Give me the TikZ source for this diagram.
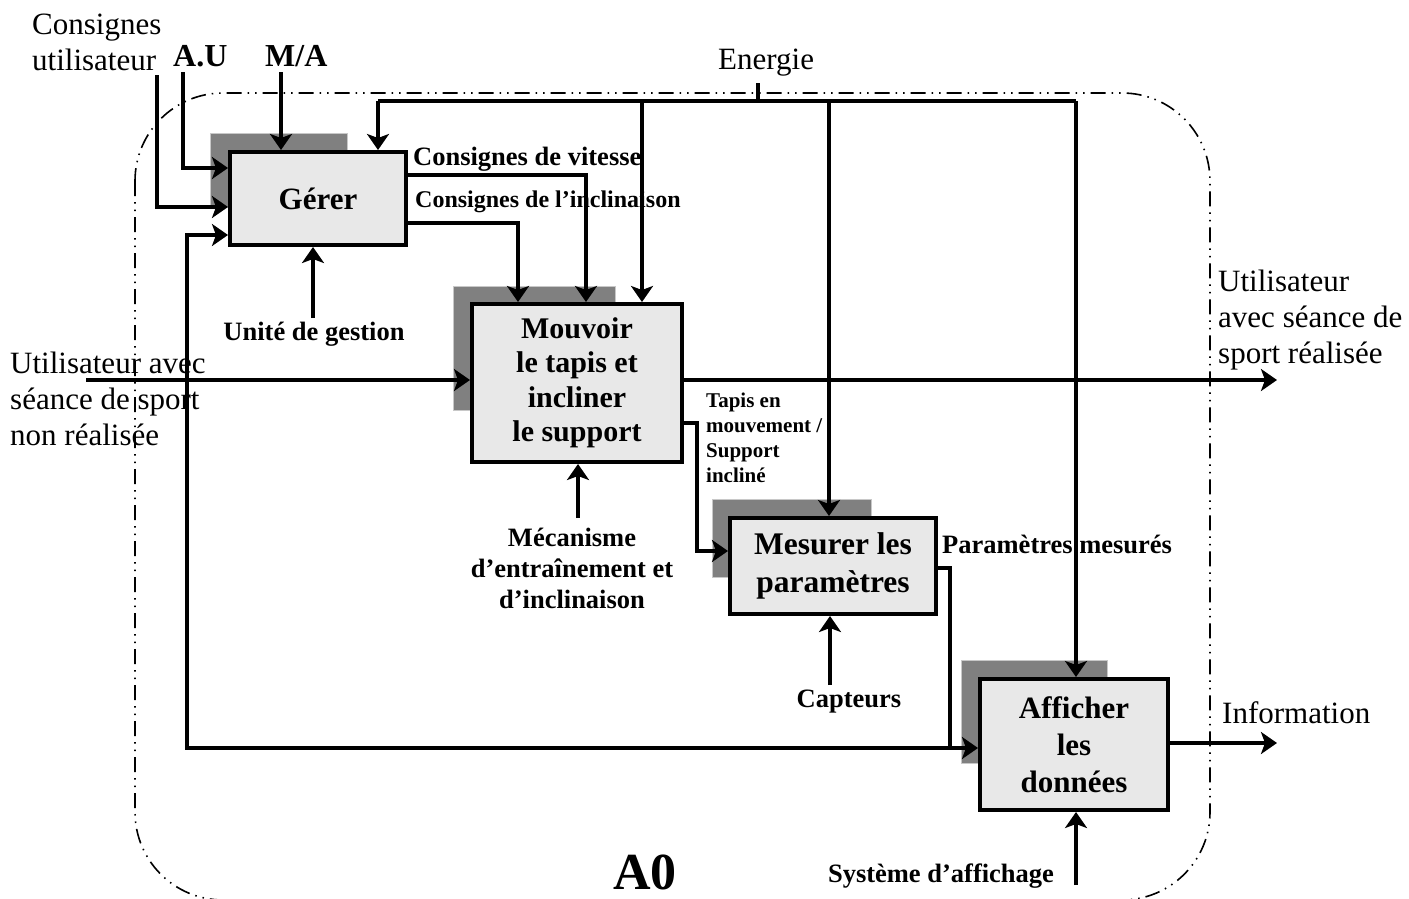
\documentclass[tikz,border=0pt]{standalone}
\usepackage{fontspec}
\setmainfont{Liberation Serif}
\usetikzlibrary{arrows.meta}
\definecolor{boxgray}{HTML}{E8E8E8}
\definecolor{shadegray}{HTML}{808080}
\definecolor{shadeedge}{HTML}{C8C8C8}
\begin{document}
\begin{tikzpicture}[x=1pt,y=-1pt,
  wire/.style={line width=3.4pt},
  arr/.style={wire,-{Stealth[length=16pt,width=22pt,inset=4pt]}},
  fn/.style={draw,line width=4pt,fill=boxgray,inner sep=0pt,align=center,
    font=\bfseries\fontsize{31}{37}\selectfont},
  shade/.style={fill=shadegray,draw=shadeedge,line width=1pt},
  plain/.style={inner sep=0pt,font=\fontsize{31}{36}\selectfont},
  tag/.style={inner sep=0pt,font=\bfseries\fontsize{26.5}{31}\selectfont},
  frame/.style={line width=1.6pt,rounded corners=88pt,
    dash pattern=on 15pt off 6pt on 1.5pt off 6pt on 1.5pt off 6pt}]
\useasboundingbox (0,0) rectangle (1409,898);

% boundary of the A0 diagram
\draw[frame] (135,93) rectangle (1210,900);

% drop shadows behind the activity boxes
\filldraw[shade] (210,133) rectangle (347,207);
\filldraw[shade] (453,286) rectangle (615,410);
\filldraw[shade] (712,499) rectangle (871,577);
\filldraw[shade] (961,660) rectangle (1107,763);

% activity boxes
\node[fn,minimum width=176pt,minimum height=93pt] (gerer) at (318,198.5) {Gérer};
\node[fn,minimum width=210pt,minimum height=158pt,
  font=\bfseries\fontsize{30}{34.5}\selectfont] (mouvoir) at (577,383)
  {Mouvoir\\le tapis et\\incliner\\le support};
\node[fn,minimum width=206pt,minimum height=96pt,
  font=\bfseries\fontsize{31.5}{38}\selectfont] (mesurer) at (833,566) {Mesurer les\\paramètres};
\node[fn,minimum width=188pt,minimum height=131pt] (afficher) at (1074,744.5)
  {Afficher\\les\\données};

% free ends and bends of the connectors
\coordinate (cuTop) at (157,75);
\coordinate (auTop) at (183,72);
\coordinate (maTop) at (281,72);
\coordinate (enTick) at (758,83);
\coordinate (enL) at (378,101);
\coordinate (enM) at (642,101);
\coordinate (enS) at (829,101);
\coordinate (enR) at (1076,101);
\coordinate (inStart) at (86,380);
\coordinate (outEnd) at (1277,380);
\coordinate (ugBot) at (313,318);
\coordinate (mcBot) at (578,518);
\coordinate (caBot) at (830,685);
\coordinate (saBot) at (1076,885);
\coordinate (infoEnd) at (1277,743);
\coordinate (tapisBend) at (697,551);
\coordinate (pmBend) at (950,748);
\coordinate (fbCorner) at (187,748);
\coordinate (fbTop) at (187,235);

% controls of Gérer
\draw[arr] (cuTop) |- ([yshift=-8.5pt]gerer.west);
\draw[arr] (auTop) |- ([yshift=30.5pt]gerer.west);
\draw[arr] (maTop) -- (maTop |- gerer.north);

% energy bus
\draw[wire] (enTick) -- (enTick |- enL);
\draw[wire] (enL) -- (enR);
\draw[arr] (enL) -- (enL |- gerer.north);
\draw[arr] (enM) -- (enM |- mouvoir.north);
\draw[arr] (enS) -- (enS |- mesurer.north);
\draw[arr] (enR) -- (enR |- afficher.north);

% set points from Gérer to Mouvoir
\draw[arr] ([yshift=23.5pt]gerer.east) -| ([xshift=9pt]mouvoir.north);
\draw[arr] ([yshift=-24.5pt]gerer.east) -| ([xshift=-59pt]mouvoir.north);

% mechanisms
\draw[arr] (ugBot) -- (ugBot |- gerer.south);
\draw[arr] (mcBot) -- (mcBot |- mouvoir.south);
\draw[arr] (caBot) -- (caBot |- mesurer.south);
\draw[arr] (saBot) -- (saBot |- afficher.south);

% main flow of the user
\draw[arr] (inStart) -- ([yshift=3pt]mouvoir.west);
\draw[arr] ([yshift=3pt]mouvoir.east) -- (outEnd);

% belt / slope state to the measurement
\draw[arr] ([yshift=-40pt]mouvoir.east) -| (tapisBend) -- ([yshift=15pt]mesurer.west);

% measured values to display and back to Gérer
\draw[wire] ([yshift=-2pt]mesurer.east) -| (pmBend);
\draw[arr] (pmBend) -- ([yshift=-3.5pt]afficher.west);
\draw[arr] (pmBend) -- (fbCorner) -- (fbTop) -- ([yshift=-36.5pt]gerer.west);

% information output
\draw[arr] ([yshift=1.5pt]afficher.east) -- (infoEnd);

% labels
\node[plain,anchor=west,align=left] (lblCU) at (32,42) {Consignes\\utilisateur};
\node[inner sep=0pt,anchor=base west,font=\bfseries\fontsize{32}{36}\selectfont] (lblAU) at (173,66) {A.U};
\node[inner sep=0pt,anchor=base west,font=\bfseries\fontsize{32}{36}\selectfont] (lblMA) at (265,66) {M/A};
\node[plain,anchor=base west] (lblEn) at (718,69) {Energie};
\node[tag,anchor=base west] (lblCV) at (413,165) {Consignes de vitesse};
\node[tag,anchor=base west,font=\bfseries\fontsize{24}{28}\selectfont] (lblCI) at (415,207) {Consignes de l’inclinaison};
\node[tag,anchor=base] (lblUG) at (314,340) {Unité de gestion};
\node[plain,anchor=west,align=left] (lblIn) at (10,398.5) {Utilisateur avec\\séance de sport\\non réalisée};
\node[plain,anchor=west,align=left] (lblOut) at (1218,320.5) {Utilisateur\\avec séance de\\sport réalisée};
\node[tag,anchor=west,align=left,font=\bfseries\fontsize{21}{25}\selectfont] (lblTM) at (706,437.5)
  {Tapis en\\mouvement /\\Support\\incliné};
\node[tag,align=center] (lblMec) at (572,568) {Mécanisme\\d’entraînement et\\d’inclinaison};
\node[tag,anchor=base west] (lblPM) at (942,553) {Paramètres mesurés};
\node[tag,anchor=base] (lblCap) at (849,707) {Capteurs};
\node[plain,anchor=base west] (lblInfo) at (1222,723) {Information};
\node[tag,anchor=base] (lblSA) at (941,882) {Système d’affichage};
\node[inner sep=0pt,anchor=base,font=\bfseries\fontsize{52}{60}\selectfont] (lblA0) at (645,889) {A0};
\end{tikzpicture}
\end{document}
